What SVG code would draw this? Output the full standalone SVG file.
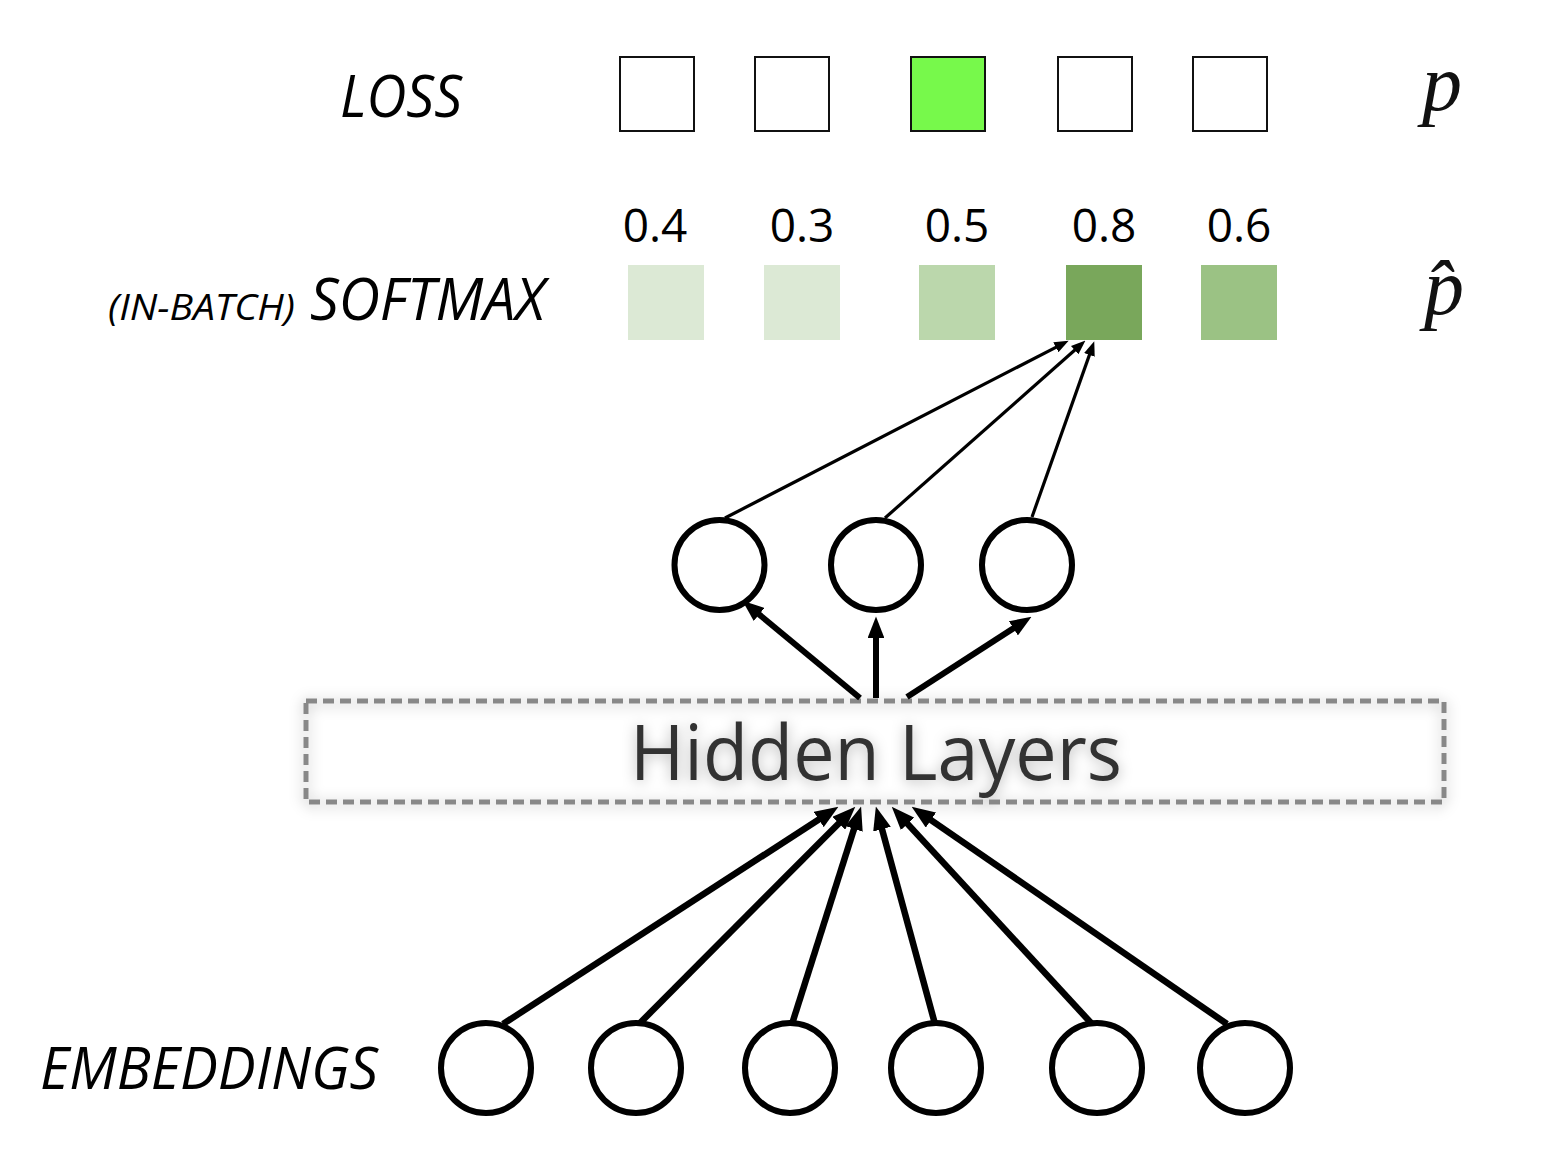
<svg xmlns="http://www.w3.org/2000/svg" width="1552" height="1176" viewBox="0 0 1552 1176">
<style>
.lbl{font-family:"Open Sans","Noto Sans","DejaVu Sans",sans-serif;font-style:italic;fill:#000}
.num{font-family:"Open Sans","Noto Sans","DejaVu Sans",sans-serif;font-size:46px;fill:#000;text-anchor:middle}
.math{font-family:"Liberation Serif","DejaVu Serif",serif;font-style:italic;fill:#111}
.loss{fill:#fff;stroke:#111;stroke-width:2}
.node{fill:#fff;stroke:#000;stroke-width:6}
.thick{stroke:#000;stroke-width:6.5;fill:none}
.mid{stroke:#000;stroke-width:6;fill:none}
.thin{stroke:#000;stroke-width:3.2;fill:none}
</style>
<defs>
<marker id="ah" viewBox="0 0 3.6 2.8" refX="1" refY="1.4" markerWidth="3.6" markerHeight="2.8" markerUnits="strokeWidth" orient="auto">
<path d="M0,0 L3.6,1.4 L0,2.8 z" fill="#000"/>
</marker>
<marker id="aht" viewBox="0 0 4.5 3.5" refX="1" refY="1.75" markerWidth="4.5" markerHeight="3.5" markerUnits="strokeWidth" orient="auto">
<path d="M0,0 L4.5,1.75 L0,3.5 z" fill="#000"/>
</marker>
<filter id="sh" x="-10%" y="-40%" width="120%" height="180%">
<feDropShadow dx="0" dy="2" stdDeviation="7" flood-color="#000" flood-opacity="0.3"/>
</filter>
</defs>
<rect width="1552" height="1176" fill="#fff"/>

<g id="labels">
<text class="lbl" x="340" y="117" font-size="58" textLength="122" lengthAdjust="spacingAndGlyphs">LOSS</text>
<text class="lbl" x="108" y="320" font-size="36" textLength="187" lengthAdjust="spacingAndGlyphs">(IN-BATCH)</text>
<text class="lbl" x="310" y="320" font-size="58" textLength="235" lengthAdjust="spacingAndGlyphs">SOFTMAX</text>
<text class="lbl" x="40" y="1089" font-size="58" textLength="338" lengthAdjust="spacingAndGlyphs">EMBEDDINGS</text>
<text class="math" x="1422" y="110" font-size="80">p</text>
<text class="math" x="1424" y="314" font-size="80">p̂</text>
</g>

<g id="loss-row">
<rect id="loss1" class="loss" x="620" y="57" width="74" height="74"/>
<rect id="loss2" class="loss" x="755" y="57" width="74" height="74"/>
<rect id="loss3" class="loss" x="911" y="57" width="74" height="74" style="fill:#77f94b"/>
<rect id="loss4" class="loss" x="1058" y="57" width="74" height="74"/>
<rect id="loss5" class="loss" x="1193" y="57" width="74" height="74"/>
</g>

<g id="softmax-row">
<g id="sm1"><text class="num" x="655" y="242">0.4</text><rect x="628" y="265" width="76" height="75" fill="#dce9d5"/></g>
<g id="sm2"><text class="num" x="802" y="242">0.3</text><rect x="764" y="265" width="76" height="75" fill="#dce9d5"/></g>
<g id="sm3"><text class="num" x="957" y="242">0.5</text><rect x="919" y="265" width="76" height="75" fill="#bbd7ac"/></g>
<g id="sm4"><text class="num" x="1104" y="242">0.8</text><rect x="1066" y="265" width="76" height="75" fill="#79a75b"/></g>
<g id="sm5"><text class="num" x="1239" y="242">0.6</text><rect x="1201" y="265" width="76" height="75" fill="#9bc284"/></g>
</g>

<g id="hidden-layers" filter="url(#sh)">
<rect x="306" y="701" width="1138" height="101" fill="none" stroke="#888" stroke-width="5" stroke-dasharray="11 6"/>
<text x="876" y="780" font-family="'Open Sans','Noto Sans','DejaVu Sans',sans-serif" font-size="76" fill="#333" text-anchor="middle" textLength="492" lengthAdjust="spacingAndGlyphs">Hidden Layers</text>
</g>

<g id="connectors">
<line class="thin" x1="725" y1="518" x2="1058.7" y2="345.8" marker-end="url(#aht)"/>
<line class="thin" x1="885" y1="518" x2="1077.1" y2="348" marker-end="url(#aht)"/>
<line class="thin" x1="1032" y1="517" x2="1090.5" y2="351.9" marker-end="url(#aht)"/>
<line class="mid" x1="860" y1="698" x2="754.5" y2="610.6" marker-end="url(#ah)"/>
<line class="mid" x1="876" y1="698" x2="876" y2="632" marker-end="url(#ah)"/>
<line class="mid" x1="907" y1="697" x2="1018.4" y2="625.1" marker-end="url(#ah)"/>
<line class="thick" x1="503" y1="1024" x2="824.2" y2="816" marker-end="url(#ah)"/>
<line class="thick" x1="639" y1="1024" x2="843.4" y2="818.7" marker-end="url(#ah)"/>
<line class="thick" x1="792" y1="1024" x2="856" y2="822.7" marker-end="url(#ah)"/>
<line class="thick" x1="935" y1="1024" x2="880.3" y2="822.9" marker-end="url(#ah)"/>
<line class="thick" x1="1092" y1="1024" x2="903.2" y2="819.1" marker-end="url(#ah)"/>
<line class="thick" x1="1227" y1="1024" x2="925.6" y2="816.4" marker-end="url(#ah)"/>
</g>

<g id="hidden-nodes">
<circle id="h1" class="node" cx="719.5" cy="565" r="45"/>
<circle id="h2" class="node" cx="876" cy="565" r="45"/>
<circle id="h3" class="node" cx="1027" cy="565" r="45"/>
</g>

<g id="embedding-nodes">
<circle id="e1" class="node" cx="486" cy="1068" r="45"/>
<circle id="e2" class="node" cx="636" cy="1068" r="45"/>
<circle id="e3" class="node" cx="790" cy="1068" r="45"/>
<circle id="e4" class="node" cx="936" cy="1068" r="45"/>
<circle id="e5" class="node" cx="1097" cy="1068" r="45"/>
<circle id="e6" class="node" cx="1245" cy="1068" r="45"/>
</g>
</svg>
